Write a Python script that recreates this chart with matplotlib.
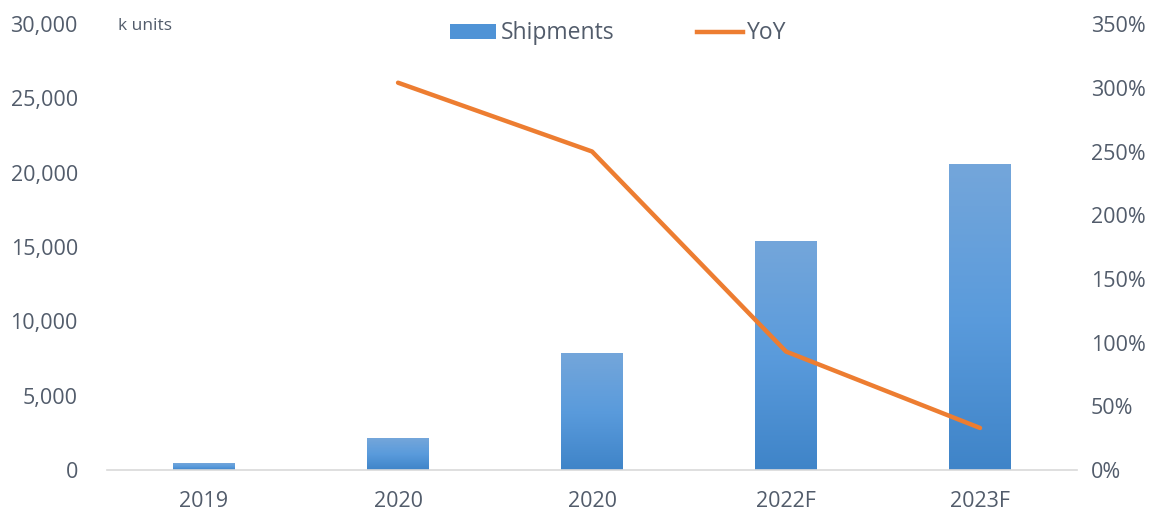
import numpy as np
import matplotlib
matplotlib.use("Agg")
import matplotlib.pyplot as plt
from matplotlib.ticker import FuncFormatter, MultipleLocator
from matplotlib.colors import LinearSegmentedColormap
from matplotlib.lines import Line2D
from matplotlib.patches import Patch

plt.rcParams['font.family'] = ['Open Sans', 'DejaVu Sans']

# Data
categories = ["2019", "2020", "2020", "2022F", "2023F"]
shipments = [450, 2130, 7870, 15400, 20560]          # k units
yoy_labels = ["2020", "2020", "2022F", "2023F"]
yoy_values = [3.04, 2.50, 0.93, 0.33]                # fraction

text_color = "#525c6b"
orange = "#ED7D31"
grad = LinearSegmentedColormap.from_list("bar_grad", ["#3f84c8", "#5a9bdc", "#74a6da"])

fig = plt.figure(figsize=(11.56, 5.13), dpi=100)
ax = fig.add_axes([0.0926, 0.0838, 0.8391, 0.8692])
ax2 = ax.twinx()

x = np.arange(len(categories))
bars = ax.bar(x, shipments, width=0.315, color="none", edgecolor="none", zorder=2)

# vertical gradient fill for each bar
gradient = np.linspace(0, 1, 256).reshape(-1, 1)
for b in bars:
    x0, y0 = b.get_x(), b.get_y()
    w, h = b.get_width(), b.get_height()
    im = ax.imshow(gradient, cmap=grad, aspect="auto", origin="lower",
                   extent=[x0, x0 + w, y0, y0 + h], zorder=2)
    im.set_clip_path(b)

ax.set_xlim(-0.5, len(categories) - 0.5)
ax.set_ylim(0, 30000)
ax.yaxis.set_major_locator(MultipleLocator(5000))
ax.yaxis.set_major_formatter(FuncFormatter(lambda v, p: f"{int(v):,}"))
ax.set_xticks(x)
ax.set_xticklabels(categories)

# YoY growth starts from the second category
yoy_x = x[1:]
ax2.plot(yoy_x, yoy_values, color=orange, linewidth=3.2, solid_capstyle="round", zorder=3)
ax2.set_ylim(0, 3.5)
ax2.yaxis.set_major_locator(MultipleLocator(0.5))
ax2.yaxis.set_major_formatter(FuncFormatter(lambda v, p: f"{v*100:.0f}%"))

for a in (ax, ax2):
    for s in a.spines.values():
        s.set_visible(False)
ax.spines["bottom"].set_visible(True)
ax.spines["bottom"].set_color("#d9d9d9")
ax.spines["bottom"].set_linewidth(1.2)

ax.tick_params(axis="y", length=0, pad=21, labelsize=15.5, labelcolor=text_color)
ax.tick_params(axis="x", length=0, pad=15, labelsize=15.5, labelcolor=text_color)
ax2.tick_params(axis="y", length=0, pad=10, labelsize=15.5, labelcolor=text_color)

ax.text(0.011, 0.995, "k units", transform=ax.transAxes, fontsize=12.5,
        color=text_color, ha="left", va="center")

handles = [Patch(facecolor="#4f93d6", edgecolor="none"),
           Line2D([0], [0], color=orange, linewidth=3.2)]
fig.legend(handles, ["Shipments", "YoY"], loc="center", bbox_to_anchor=(0.535, 0.935),
           ncol=2, frameon=False, fontsize=16.5, labelcolor=text_color,
           handlelength=2.0, handleheight=0.6, handletextpad=0.2, columnspacing=3.6)

fig.savefig("out.png", dpi=100)
